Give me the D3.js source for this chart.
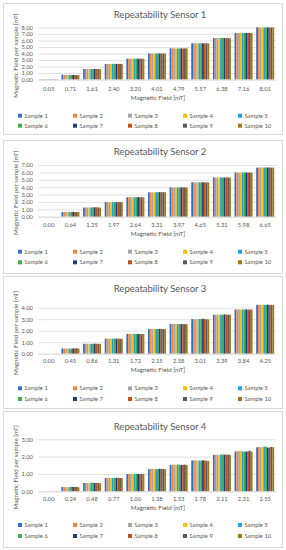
<!DOCTYPE html>
<html><head><meta charset="utf-8">
<script src="https://cdn.jsdelivr.net/npm/d3@7"></script>
<style>body{margin:0;background:#fff;}svg{display:block;font-family:Lato,"Liberation Sans",sans-serif;}</style>
</head><body><div id="c"></div>
<script>
const sampleNames = ["Sample 1","Sample 2","Sample 3","Sample 4","Sample 5","Sample 6","Sample 7","Sample 8","Sample 9","Sample 10"];
const colors = ["#2E6FD3","#F4873C","#A5A5A5","#FFC000","#1FA0E3","#3EAE48","#1F3E7C","#C2501C","#5A5A5A","#A6780F"];

const titles = ["Repeatability Sensor 1","Repeatability Sensor 2","Repeatability Sensor 3","Repeatability Sensor 4"];
const yMax = [8, 7, 4.5, 3];
const yTicks = [[0,1,2,3,4,5,6,7,8],[0,1,2,3,4,5,6,7],[0,1,2,3,4],[0,1,2,3]];

const cats1 = ["0.05","0.71","1.61","2.40","3.20","4.01","4.79","5.57","6.38","7.16","8.01"];
const cats2 = ["0.00","0.64","1.25","1.97","2.64","3.31","3.97","4.65","5.31","5.98","6.65"];
const cats3 = ["0.00","0.45","0.86","1.31","1.72","2.15","2.58","3.01","3.39","3.84","4.25"];
const cats4 = ["0.00","0.24","0.48","0.77","1.00","1.28","1.53","1.78","2.11","2.31","2.55"];

// values[sample][category]
const sensor1 = [
 [0.05,0.73,1.62,2.41,3.21,4.02,4.80,5.58,6.39,7.17,8.02],
 [0.05,0.72,1.61,2.40,3.20,4.01,4.79,5.57,6.38,7.16,8.01],
 [0.05,0.72,1.61,2.40,3.20,4.01,4.79,5.57,6.38,7.16,8.01],
 [0.05,0.71,1.61,2.40,3.20,4.01,4.79,5.57,6.38,7.16,8.01],
 [0.05,0.71,1.60,2.40,3.20,4.01,4.79,5.57,6.38,7.16,8.01],
 [0.05,0.70,1.61,2.40,3.20,4.01,4.79,5.57,6.38,7.16,8.01],
 [0.05,0.70,1.62,2.41,3.21,4.01,4.79,5.57,6.38,7.16,8.01],
 [0.05,0.69,1.61,2.40,3.20,4.01,4.78,5.56,6.37,7.15,8.00],
 [0.05,0.68,1.61,2.40,3.20,4.01,4.79,5.57,6.38,7.16,8.01],
 [0.05,0.67,1.60,2.39,3.19,4.00,4.78,5.56,6.37,7.15,8.00]
];
const sensor2 = [
 [0.00,0.64,1.24,1.98,2.64,3.30,3.99,4.66,5.33,5.99,6.64],
 [0.00,0.64,1.25,1.97,2.64,3.30,3.97,4.65,5.31,5.98,6.65],
 [0.00,0.63,1.25,1.97,2.64,3.31,3.96,4.64,5.30,5.98,6.65],
 [0.00,0.64,1.24,1.97,2.63,3.31,3.97,4.65,5.31,5.97,6.65],
 [0.00,0.64,1.25,1.97,2.64,3.31,3.97,4.65,5.32,5.98,6.65],
 [0.00,0.65,1.25,1.96,2.64,3.31,3.96,4.65,5.31,5.98,6.66],
 [0.00,0.65,1.27,1.97,2.65,3.33,3.97,4.66,5.30,5.98,6.66],
 [0.00,0.64,1.28,1.98,2.64,3.32,3.97,4.65,5.31,5.98,6.66],
 [0.00,0.63,1.25,1.97,2.64,3.32,3.96,4.64,5.31,5.97,6.65],
 [0.00,0.62,1.23,1.96,2.63,3.31,3.96,4.64,5.30,5.97,6.65]
];
const sensor3 = [
 [0.00,0.46,0.86,1.31,1.72,2.16,2.58,3.01,3.39,3.84,4.25],
 [0.00,0.45,0.86,1.30,1.72,2.14,2.58,3.00,3.38,3.84,4.25],
 [0.00,0.45,0.86,1.31,1.72,2.14,2.58,3.00,3.39,3.84,4.25],
 [0.00,0.45,0.86,1.31,1.72,2.15,2.58,3.01,3.39,3.84,4.25],
 [0.00,0.44,0.86,1.31,1.72,2.15,2.57,3.02,3.39,3.84,4.25],
 [0.00,0.45,0.86,1.31,1.72,2.15,2.58,3.02,3.39,3.84,4.25],
 [0.00,0.46,0.87,1.31,1.72,2.16,2.58,3.04,3.41,3.85,4.26],
 [0.00,0.46,0.86,1.31,1.71,2.16,2.57,3.00,3.40,3.84,4.25],
 [0.00,0.47,0.86,1.30,1.71,2.15,2.57,3.00,3.39,3.84,4.25],
 [0.00,0.45,0.85,1.30,1.71,2.14,2.57,2.99,3.38,3.84,4.24]
];
const sensor4 = [
 [0.00,0.25,0.48,0.77,1.00,1.28,1.53,1.78,2.10,2.30,2.54],
 [0.00,0.24,0.48,0.77,1.00,1.28,1.53,1.78,2.10,2.31,2.55],
 [0.00,0.24,0.48,0.77,1.00,1.28,1.53,1.78,2.11,2.32,2.55],
 [0.00,0.24,0.48,0.77,1.00,1.28,1.54,1.78,2.11,2.32,2.56],
 [0.00,0.25,0.49,0.77,1.01,1.28,1.54,1.77,2.13,2.30,2.58],
 [0.00,0.26,0.50,0.78,1.01,1.28,1.54,1.77,2.12,2.29,2.57],
 [0.00,0.25,0.48,0.78,1.00,1.30,1.52,1.79,2.12,2.29,2.52],
 [0.00,0.25,0.48,0.78,1.00,1.29,1.53,1.77,2.11,2.31,2.53],
 [0.00,0.25,0.48,0.77,1.00,1.29,1.54,1.76,2.12,2.34,2.56],
 [0.00,0.23,0.47,0.76,1.00,1.28,1.52,1.76,2.10,2.29,2.54]
];

const categories = [cats1, cats2, cats3, cats4];
const sensors = [sensor1, sensor2, sensor3, sensor4];

// layout
const layout = [
 {bx:3, by:3, bw:279, bh:131, title:15, zero:79.5, top:27.5, cat:89, xt:97.5, l1:115.7, l2:125.7},
 {bx:3, by:140, bw:279, bh:133, title:152, zero:216.7, top:165, cat:224.5, xt:234, l1:251.7, l2:262.3},
 {bx:3, by:276, bw:279, bh:132, title:289, zero:353.7, top:307.7, cat:360.5, xt:370, l1:388.3, l2:399},
 {bx:3, by:411, bw:279, bh:136, title:427, zero:491.3, top:439.3, cat:498.5, xt:508, l1:525, l2:536}
];
const plotL = 38, plotR = 276;
const textCol = "#595959", gridCol = "#D9D9D9";
const legendCols = [20, 75, 130, 185, 240];

const svg = d3.select("#c").append("svg").attr("width",286).attr("height",550);

sensors.forEach((data, i) => {
  const L = layout[i];
  const g = svg.append("g");
  g.append("rect").attr("x",L.bx+0.5).attr("y",L.by+0.5).attr("width",L.bw).attr("height",L.bh)
    .attr("fill","#fff").attr("stroke","#D9D9D9").attr("stroke-width",1);

  g.append("text").attr("x",(plotL+plotR)/2+3).attr("y",L.title).attr("dy","0.35em")
    .attr("text-anchor","middle").attr("fill",textCol).style("font-size","9.5px").text(titles[i]);

  const topVal = yTicks[i][yTicks[i].length-1];
  const unit = (L.zero - L.top)/topVal;
  const y = d3.scaleLinear().domain([0, yMax[i]]).range([L.zero, L.zero - unit*yMax[i]]);

  const x0 = d3.scaleBand().domain(categories[i]).range([plotL, plotR]).paddingInner(1/6).paddingOuter(1/12);
  const x1 = d3.scaleBand().domain(d3.range(10)).range([0, x0.bandwidth()]);

  // gridlines via axis
  const yAxis = d3.axisLeft(y).tickValues(yTicks[i]).tickSize(-(plotR-plotL)).tickFormat(d3.format(".2f"));
  const ya = g.append("g").attr("transform",`translate(${plotL},0)`).call(yAxis);
  ya.select(".domain").remove();
  ya.selectAll(".tick line").attr("stroke",gridCol).attr("stroke-width",0.8);
  ya.selectAll(".tick text").attr("fill",textCol).attr("x",-5).style("font-size","5.8px").style("font-family","Lato, sans-serif");

  // bars
  const groups = g.append("g").selectAll("g").data(categories[i]).join("g")
    .attr("transform", d => `translate(${x0(d)},0)`);
  groups.selectAll("rect").data((c, ci) => data.map((s, si) => ({si, v: s[ci]}))).join("rect")
    .attr("x", d => x1(d.si)).attr("width", x1.bandwidth())
    .attr("y", d => y(d.v)).attr("height", d => y(0) - y(d.v))
    .attr("fill", d => colors[d.si]);

  // x axis
  const xAxis = d3.axisBottom(x0).tickSize(0).tickPadding(0);
  const xa = g.append("g").attr("transform",`translate(0,${L.zero})`).call(xAxis);
  xa.select(".domain").attr("stroke",gridCol).attr("stroke-width",0.8);
  xa.selectAll(".tick text").attr("fill",textCol).attr("y", L.cat - L.zero).attr("dy","0.35em")
    .style("font-size","5.8px").style("font-family","Lato, sans-serif");

  g.append("text").attr("x",(plotL+plotR)/2+1).attr("y",L.xt).attr("dy","0.35em")
    .attr("text-anchor","middle").attr("fill",textCol).style("font-size","6.3px").text("Magnetic Field [mT]");

  const cy = (L.top + L.zero)/2 + 2;
  g.append("text").attr("transform",`translate(16,${cy}) rotate(-90)`).attr("dy","0.35em")
    .attr("text-anchor","middle").attr("fill",textCol).style("font-size","6.2px").text("Magnetic Field per sample [mT]");

  // legend
  const leg = g.append("g").selectAll("g").data(sampleNames).join("g")
    .attr("transform",(d,k)=>`translate(${legendCols[k%5]},${k<5?L.l1:L.l2})`);
  leg.append("rect").attr("x",-2).attr("y",-2).attr("width",4).attr("height",4).attr("fill",(d,k)=>colors[k]);
  leg.append("text").attr("x",4.5).attr("dy","0.35em").attr("fill",textCol).style("font-size","5.8px").text(d=>d);
});
</script></body></html>
